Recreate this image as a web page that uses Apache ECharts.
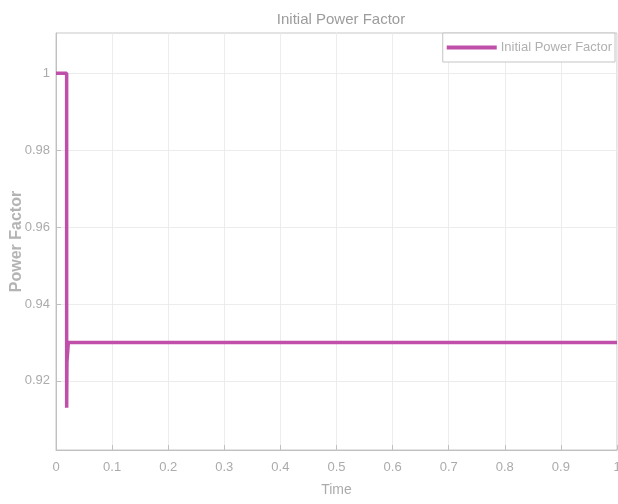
<!DOCTYPE html>
<html>
<head>
<meta charset="utf-8">
<script src="https://cdn.jsdelivr.net/npm/echarts@6/dist/echarts.min.js"></script>
<style>
  html, body { margin: 0; padding: 0; background: #fff; }
  #chart { width: 618px; height: 504px; }
</style>
</head>
<body>
<div id="chart"></div>
<script>
// Power factor trace over time
const timeValues = [0, 0.019, 0.019, 0.0195, 0.022, 1];
const powerFactorValues = [1, 1, 0.913, 0.925, 0.93, 0.93];
const xTicks = [0, 0.1, 0.2, 0.3, 0.4, 0.5, 0.6, 0.7, 0.8, 0.9, 1];
const yTicks = [0.92, 0.94, 0.96, 0.98, 1];

const font = '"Liberation Sans Narrow", "Liberation Sans", Arial, sans-serif';
const textGray = '#ababab';
const lineColor = '#bf4fa8';

const chart = echarts.init(document.getElementById('chart'), null, { renderer: 'canvas' });

chart.setOption({
  animation: false,
  title: {
    text: 'Initial Power Factor',
    left: 336, top: 7, textAlign: 'center',
    textStyle: { color: '#9c9c9c', fontSize: 15, fontWeight: 'normal', fontFamily: font }
  },
  legend: {
    data: ['Initial Power Factor'],
    right: 3, top: 33,
    itemWidth: 50, itemHeight: 4, itemGap: 4,
    padding: [8, 3, 8, 4],
    borderColor: '#c4c4c4', borderWidth: 1, backgroundColor: '#fff',
    icon: 'rect',
    textStyle: { color: '#b0b0b0', fontSize: 13, fontFamily: font, padding: [0, 0, 0, -1] }
  },
  grid: {
    left: 56, right: 1, top: 33, bottom: 54,
    outerBoundsMode: 'none',
    containLabel: false,
    show: true, borderColor: '#c8c8c8', borderWidth: 1
  },
  xAxis: {
    type: 'value', min: 0, max: 1, interval: 0.1,
    name: 'Time', nameLocation: 'middle', nameGap: 33,
    nameMoveOverlap: false,
    nameTextStyle: { color: textGray, fontSize: 14, fontFamily: font },
    axisLine: { show: true, lineStyle: { color: '#c0c0c0' } },
    axisTick: { show: true, inside: true, length: 5, lineStyle: { color: '#c0c0c0' } },
    axisLabel: {
      color: textGray, fontSize: 13, fontFamily: font, margin: 11,
      formatter: v => {
        const r = Math.round(v * 10) / 10;
        return xTicks.includes(r) ? String(r) : '';
      }
    },
    splitLine: { show: true, lineStyle: { color: '#ececec' } }
  },
  yAxis: {
    type: 'value', min: 0.902, max: 1.0105,
    name: 'Power Factor', nameLocation: 'middle', nameGap: 31,
    nameMoveOverlap: false,
    nameTextStyle: { color: '#b4b4b4', fontSize: 16, fontWeight: 'bold', fontFamily: 'Liberation Sans, Arial, sans-serif' },
    axisLine: { show: true, lineStyle: { color: '#c0c0c0' } },
    axisTick: { show: true, inside: true, length: 5, lineStyle: { color: '#c0c0c0' }, customValues: yTicks },
    axisLabel: {
      color: textGray, fontSize: 13, fontFamily: font, margin: 6,
      customValues: yTicks,
      formatter: v => String(Math.round(v * 100) / 100)
    },
    splitLine: { show: true, lineStyle: { color: '#ececec' } }
  },
  series: [{
    name: 'Initial Power Factor',
    type: 'line',
    data: timeValues.map((t, i) => [t, powerFactorValues[i]]),
    showSymbol: false,
    lineStyle: { color: lineColor, width: 3.5 },
    itemStyle: { color: lineColor }
  }]
});
</script>
</body>
</html>
